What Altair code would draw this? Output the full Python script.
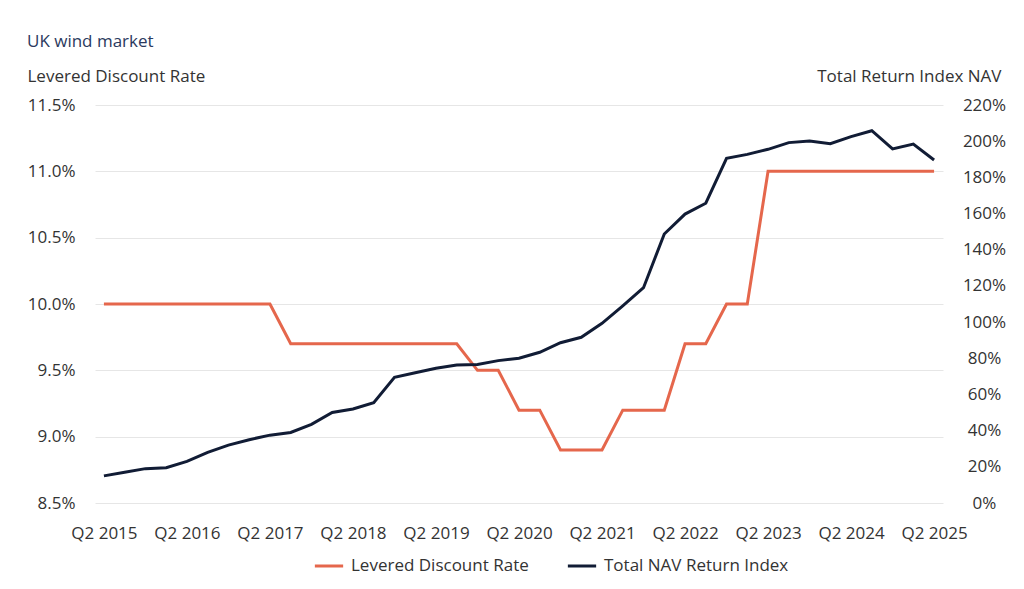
import altair as alt
import pandas as pd

quarters = [
    "Q2 2015", "Q3 2015", "Q4 2015", "Q1 2016",
    "Q2 2016", "Q3 2016", "Q4 2016", "Q1 2017",
    "Q2 2017", "Q3 2017", "Q4 2017", "Q1 2018",
    "Q2 2018", "Q3 2018", "Q4 2018", "Q1 2019",
    "Q2 2019", "Q3 2019", "Q4 2019", "Q1 2020",
    "Q2 2020", "Q3 2020", "Q4 2020", "Q1 2021",
    "Q2 2021", "Q3 2021", "Q4 2021", "Q1 2022",
    "Q2 2022", "Q3 2022", "Q4 2022", "Q1 2023",
    "Q2 2023", "Q3 2023", "Q4 2023", "Q1 2024",
    "Q2 2024", "Q3 2024", "Q4 2024", "Q1 2025",
    "Q2 2025",
]

discount_rate = [
    10.0, 10.0, 10.0, 10.0, 10.0, 10.0, 10.0, 10.0, 10.0,
    9.7, 9.7, 9.7, 9.7, 9.7, 9.7, 9.7, 9.7, 9.7,
    9.5, 9.5,
    9.2, 9.2,
    8.9, 8.9, 8.9,
    9.2, 9.2, 9.2,
    9.7, 9.7,
    10.0, 10.0,
    11.0, 11.0, 11.0, 11.0, 11.0, 11.0, 11.0, 11.0, 11.0,
]

nav_index = [
    15, 17, 19, 19.5, 23, 28, 32, 35, 37.5, 39,
    43.5, 50, 52, 55.5, 69.5, 72, 74.5, 76.3, 76.6, 78.7,
    80, 83.3, 88.6, 91.6, 99.3, 109, 119, 148.7, 159.7, 165.7,
    190.5, 192.7, 195.5, 199.2, 200.1, 198.6, 202.5, 205.8, 195.7, 198.4,
    189.6,
]

year_ticks = ["Q2 2015", "Q2 2016", "Q2 2017", "Q2 2018", "Q2 2019", "Q2 2020",
              "Q2 2021", "Q2 2022", "Q2 2023", "Q2 2024", "Q2 2025"]
left_ticks = [8.5, 9.0, 9.5, 10.0, 10.5, 11.0, 11.5]
right_ticks = [0, 20, 40, 60, 80, 100, 120, 140, 160, 180, 200, 220]

series_names = ["Levered Discount Rate", "Total NAV Return Index"]
series_colors = ["#E5674C", "#111C35"]

df = pd.DataFrame({
    "quarter": quarters * 2,
    "series": [series_names[0]] * len(quarters) + [series_names[1]] * len(quarters),
    "value": discount_rate + nav_index,
})

TEXT = "#333333"
FS = 17

x_enc = alt.X(
    "quarter:O",
    sort=quarters,
    scale=alt.Scale(type="point", padding=0.43),
    axis=alt.Axis(values=year_ticks, labelAngle=0, ticks=False, domain=False,
                  grid=False, title=None, labelPadding=22, labelFontSize=FS,
                  labelColor=TEXT),
)

color_enc = alt.Color(
    "series:N",
    scale=alt.Scale(domain=series_names, range=series_colors),
    legend=alt.Legend(
        title=None, orient="none", direction="horizontal",
        legendX=218, legendY=445,
        symbolType="stroke", symbolStrokeWidth=3, symbolSize=800,
        labelFontSize=FS, labelColor=TEXT, labelLimit=0,
        columnPadding=32, labelOffset=6,
    ),
)

base = alt.Chart(df)

left = base.transform_filter(
    alt.datum.series == series_names[0]
).mark_line(strokeWidth=3).encode(
    x=x_enc,
    y=alt.Y(
        "value:Q",
        scale=alt.Scale(domain=[8.5, 11.5], nice=False, zero=False),
        axis=alt.Axis(
            values=left_ticks, labelExpr="format(datum.value, '.1f') + '%'",
            ticks=False, domain=False, grid=True, gridColor="#E6E6E6",
            labelPadding=20, labelFontSize=FS, labelColor=TEXT,
            title="Levered Discount Rate", titleAngle=0, titleAlign="left",
            titleBaseline="alphabetic", titleX=-68, titleY=-24,
            titleFontSize=FS, titleFontWeight="normal", titleColor=TEXT,
        ),
    ),
    color=color_enc,
)

right = base.transform_filter(
    alt.datum.series == series_names[1]
).mark_line(strokeWidth=3).encode(
    x=x_enc,
    y=alt.Y(
        "value:Q",
        scale=alt.Scale(domain=[0, 220], nice=False),
        axis=alt.Axis(
            orient="right", values=right_ticks, labelExpr="datum.value + '%'",
            ticks=False, domain=False, grid=False,
            labelAlign="center", labelPadding=41, labelFontSize=FS, labelColor=TEXT,
            title="Total Return Index NAV", titleAngle=0, titleAlign="right",
            titleBaseline="alphabetic", titleX=58, titleY=-24,
            titleFontSize=FS, titleFontWeight="normal", titleColor=TEXT,
        ),
    ),
    color=color_enc,
)

chart = alt.layer(left, right).resolve_scale(y="independent").properties(
    width=848,
    height=398,
    autosize=alt.AutoSizeParams(type="none"),
    padding={"left": 87, "top": 97, "right": 73, "bottom": 78},
    title=alt.TitleParams(
        "UK wind market", anchor="start", frame="bounds", fontSize=FS,
        fontWeight="normal", color="#2B3A5E", offset=16,
    ),
).configure(font="Open Sans").configure_view(stroke=None)

chart.save("out.html", embed_options={"renderer": "svg", "actions": False})
